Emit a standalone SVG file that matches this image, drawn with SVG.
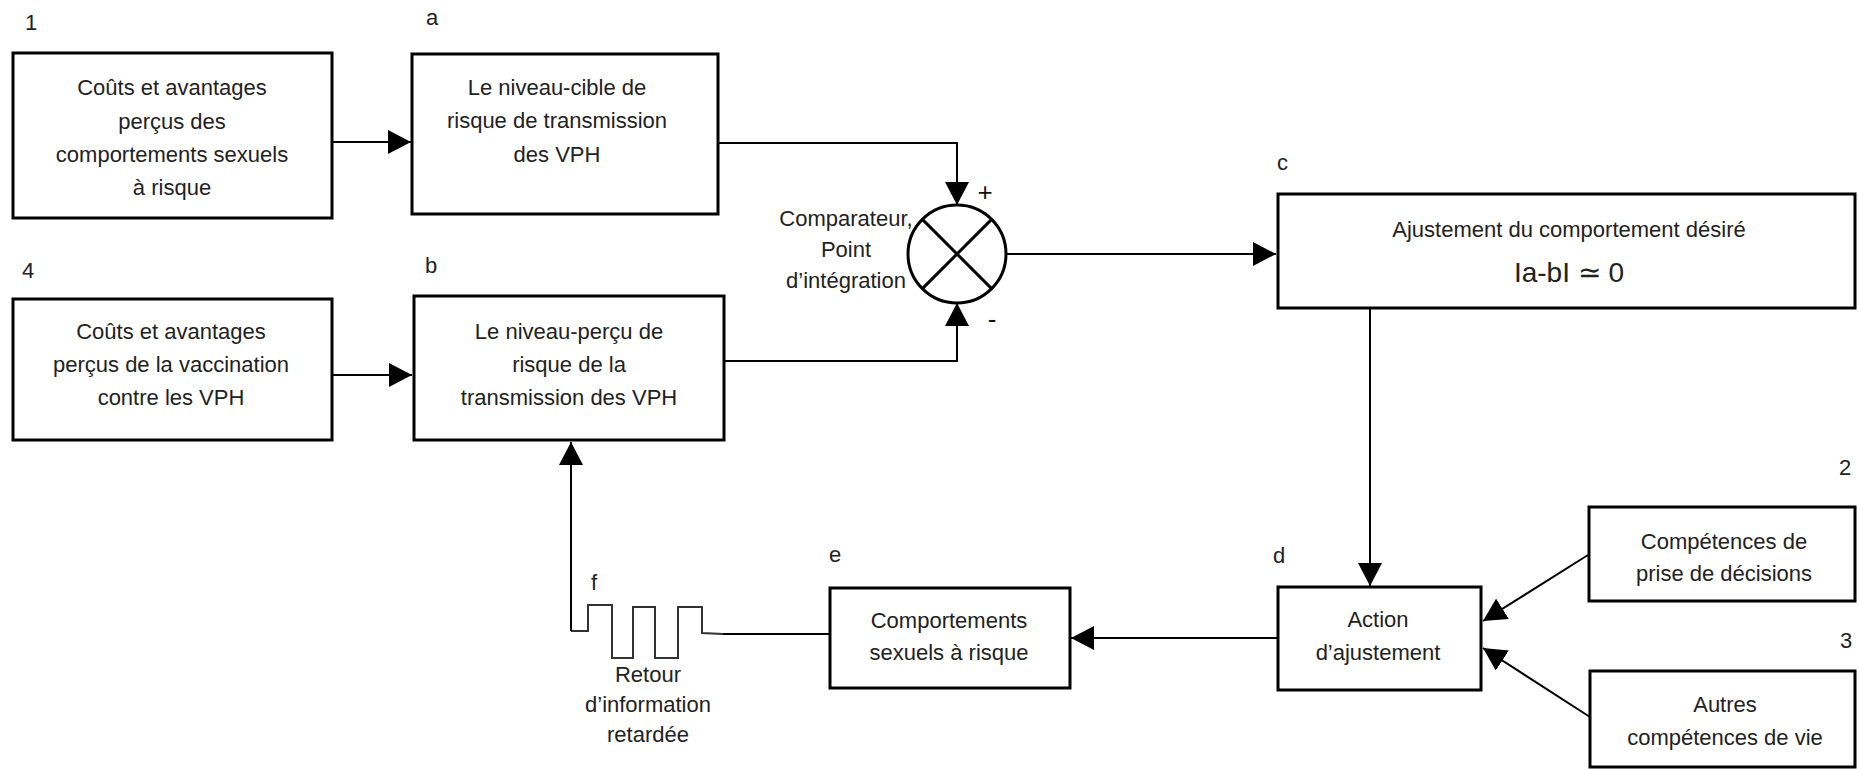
<svg xmlns="http://www.w3.org/2000/svg" width="1859" height="769" viewBox="0 0 1859 769">
<defs>
<style>
.box{fill:#fff;stroke:#000;stroke-width:3}
.t{font-family:"Liberation Sans",Arial,sans-serif;font-size:22px;fill:#222;text-anchor:middle}
.lbl{font-family:"Liberation Sans",Arial,sans-serif;font-size:22px;fill:#222}
.sign{font-family:"Liberation Sans",Arial,sans-serif;font-size:26px;fill:#111;text-anchor:middle}
.ln{fill:none;stroke:#000;stroke-width:2}
.wave{fill:none;stroke:#333;stroke-width:2}
</style>
<marker id="ah" markerUnits="userSpaceOnUse" markerWidth="24" markerHeight="24" viewBox="0 0 24 24" refX="23" refY="12" orient="auto">
<path d="M0,0 L23,12 L0,24 z" fill="#000"/>
</marker>
</defs>
<rect width="1859" height="769" fill="#fff"/>

<g id="labels">
<text class="lbl" x="25" y="30">1</text>
<text class="lbl" x="426" y="25">a</text>
<text class="lbl" x="22" y="278">4</text>
<text class="lbl" x="425" y="273">b</text>
<text class="lbl" x="1277" y="170">c</text>
<text class="lbl" x="1273" y="563">d</text>
<text class="lbl" x="829" y="562">e</text>
<text class="lbl" x="591" y="590">f</text>
<text class="lbl" x="1839" y="475">2</text>
<text class="lbl" x="1840" y="648">3</text>
</g>

<g id="connectors">
<line class="ln" x1="332" y1="142" x2="411" y2="142" marker-end="url(#ah)"/>
<line class="ln" x1="332" y1="375" x2="412" y2="375" marker-end="url(#ah)"/>
<polyline class="ln" points="718,143 957,143 957,205" marker-end="url(#ah)"/>
<polyline class="ln" points="724,361 957,361 957,303" marker-end="url(#ah)"/>
<line class="ln" x1="1006" y1="254" x2="1276" y2="254" marker-end="url(#ah)"/>
<line class="ln" x1="1370" y1="308" x2="1370" y2="586" marker-end="url(#ah)"/>
<line class="ln" x1="1278" y1="638" x2="1071" y2="638" marker-end="url(#ah)"/>
<line class="ln" x1="1588" y1="555" x2="1483" y2="621" marker-end="url(#ah)"/>
<line class="ln" x1="1590" y1="717" x2="1483" y2="648" marker-end="url(#ah)"/>
<line class="ln" x1="829" y1="634" x2="723" y2="634"/>
<polyline class="wave" points="723,634 702,633 702,607 678,607 678,658 655,658 655,607 633,607 633,658 612,658 612,605 588,605 588,631 571,631"/>
<line class="ln" x1="571" y1="631" x2="571" y2="442" marker-end="url(#ah)"/>
</g>

<g id="node1">
<rect class="box" x="13" y="53" width="319" height="165"/>
<text class="t" x="172" y="95">Coûts et avantages</text>
<text class="t" x="172" y="129">perçus des</text>
<text class="t" x="172" y="162">comportements sexuels</text>
<text class="t" x="172" y="195">à risque</text>
</g>

<g id="nodeA">
<rect class="box" x="412" y="54" width="306" height="160"/>
<text class="t" x="557" y="95">Le niveau-cible de</text>
<text class="t" x="557" y="128">risque de transmission</text>
<text class="t" x="557" y="162">des VPH</text>
</g>

<g id="node4">
<rect class="box" x="13" y="299" width="319" height="141"/>
<text class="t" x="171" y="339">Coûts et avantages</text>
<text class="t" x="171" y="372">perçus de la vaccination</text>
<text class="t" x="171" y="405">contre les VPH</text>
</g>

<g id="nodeB">
<rect class="box" x="414" y="296" width="310" height="144"/>
<text class="t" x="569" y="339">Le niveau-perçu de</text>
<text class="t" x="569" y="372">risque de la</text>
<text class="t" x="569" y="405">transmission des VPH</text>
</g>

<g id="comparator">
<circle cx="957" cy="254" r="49" fill="#fff" stroke="#000" stroke-width="3"/>
<line x1="922.4" y1="219.4" x2="991.6" y2="288.6" stroke="#000" stroke-width="3"/>
<line x1="991.6" y1="219.4" x2="922.4" y2="288.6" stroke="#000" stroke-width="3"/>
<text class="t" x="846" y="226">Comparateur,</text>
<text class="t" x="846" y="257">Point</text>
<text class="t" x="846" y="288">d’intégration</text>
<text class="sign" x="985" y="201">+</text>
<text class="sign" x="992" y="328">-</text>
</g>

<g id="nodeC">
<rect class="box" x="1278" y="194" width="577" height="114"/>
<text class="t" x="1569" y="237">Ajustement du comportement désiré</text>
<text class="t" x="1569" y="282" style="font-size:28px">Ia-bI ≃ 0</text>
</g>

<g id="nodeD">
<rect class="box" x="1278" y="587" width="203" height="103"/>
<text class="t" x="1378" y="627">Action</text>
<text class="t" x="1378" y="660">d’ajustement</text>
</g>

<g id="nodeE">
<rect class="box" x="830" y="588" width="240" height="100"/>
<text class="t" x="949" y="628">Comportements</text>
<text class="t" x="949" y="660">sexuels à risque</text>
</g>

<g id="nodeF">
<text class="t" x="648" y="682">Retour</text>
<text class="t" x="648" y="712">d’information</text>
<text class="t" x="648" y="742">retardée</text>
</g>

<g id="node2">
<rect class="box" x="1589" y="507" width="266" height="94"/>
<text class="t" x="1724" y="549">Compétences de</text>
<text class="t" x="1724" y="581">prise de décisions</text>
</g>

<g id="node3">
<rect class="box" x="1590" y="671" width="265" height="96"/>
<text class="t" x="1725" y="712">Autres</text>
<text class="t" x="1725" y="745">compétences de vie</text>
</g>
</svg>
